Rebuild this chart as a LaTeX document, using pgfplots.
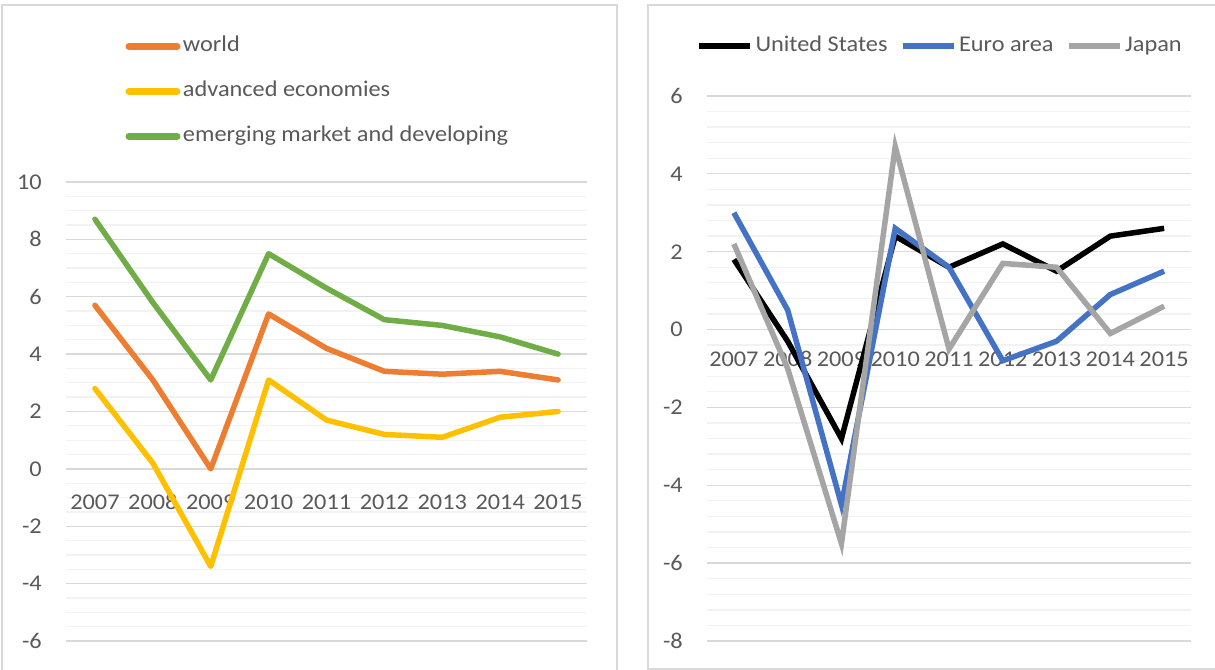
\documentclass[border=0pt]{standalone}
\usepackage{pgfplots}
\pgfplotsset{compat=1.18}
\usepackage{fontspec}
\setmainfont[FakeStretch=1.08]{Carlito}
\definecolor{txt}{HTML}{595959}
\definecolor{gmaj}{HTML}{D9D9D9}
\definecolor{gmin}{HTML}{F2F2F2}
\definecolor{border}{HTML}{D9D9D9}
\definecolor{cworld}{HTML}{ED7D31}
\definecolor{cadv}{HTML}{FFC000}
\definecolor{cemg}{HTML}{70AD47}
\definecolor{ceuro}{HTML}{4472C4}
\definecolor{cjap}{HTML}{A5A5A5}
\pgfplotsset{
  common/.style={
    scale only axis, clip=false,
    xmin=0.5, xmax=9.5,
    xtick={1,...,9},
    xticklabels={2007,2008,2009,2010,2011,2012,2013,2014,2015},
    ymajorgrids, yminorgrids,
    major grid style={draw=gmaj, line width=1.3bp},
    minor grid style={draw=gmin, line width=1.3bp},
    axis line style={draw=none},
    major tick length=0pt, minor tick length=0pt,
    tick label style={font=\fontsize{22.5bp}{27bp}\selectfont, text=txt},
    yticklabel style={xshift=-16.5bp},
    xticklabel style={text height=14bp, text depth=0pt},
  }
}
\begin{document}
\fontsize{22.5bp}{27bp}\selectfont
\begin{tikzpicture}[x=1bp,y=1bp]
\useasboundingbox (0,0) rectangle (1215,670);
\draw[border, line width=1.2bp] (2,-5) rectangle (617,665);
\draw[border, line width=1.2bp] (648,1) rectangle (1225,665);

\begin{axis}[common,
  at={(66bp,29bp)}, anchor=south west,
  width=521bp, height=459bp,
  ymin=-6, ymax=10,
  ytick={-6,-4,-2,0,2,4,6,8,10},
  yticklabels={-6,-4,-2,0,2,4,6,8,10},
  minor y tick num=3,
  xticklabel style={yshift=153bp},
  legend cell align=left,
  legend image code/.code={\draw[#1, line width=7bp, line cap=round] (0bp,0bp) -- (48bp,0bp);},
  legend style={at={(0.1142,1.317)}, anchor=north west, draw=none, fill=none,
    inner sep=0pt, outer sep=0pt, row sep=25bp,
    font=\fontsize{22.5bp}{27bp}\selectfont,
    nodes={inner sep=0pt, text=txt, text height=15bp, text depth=5bp},
    /tikz/every odd column/.append style={column sep=2.5bp}},
  every axis plot/.append style={line width=5.5bp, line cap=round, line join=round},
]
\addplot[cworld] coordinates {(1,5.7) (2,3.1) (3,0.0) (4,5.4) (5,4.2) (6,3.4) (7,3.3) (8,3.4) (9,3.1)};
\addlegendentry{world}
\addplot[cadv] coordinates {(1,2.8) (2,0.2) (3,-3.4) (4,3.1) (5,1.7) (6,1.2) (7,1.1) (8,1.8) (9,2.0)};
\addlegendentry{advanced economies}
\addplot[cemg] coordinates {(1,8.7) (2,5.8) (3,3.1) (4,7.5) (5,6.3) (6,5.2) (7,5.0) (8,4.6) (9,4.0)};
\addlegendentry{emerging market and developing}
\end{axis}

\begin{axis}[common,
  at={(707bp,29bp)}, anchor=south west,
  width=484bp, height=545bp,
  ymin=-8, ymax=6,
  ytick={-8,-6,-4,-2,0,2,4,6},
  yticklabels={-8,-6,-4,-2,0,2,4,6},
  minor y tick num=4,
  xticklabel style={yshift=296bp},
  legend columns=3,
  legend image code/.code={\draw[#1, line width=6bp, line cap=butt] (0bp,0bp) -- (51bp,0bp);},
  legend style={at={(-0.0227,1.1092)}, anchor=north west, draw=none, fill=none,
    inner sep=0pt, outer sep=0pt,
    font=\fontsize{22.5bp}{27bp}\selectfont,
    nodes={inner sep=0pt, text=txt, text height=15bp, text depth=5bp},
    /tikz/every odd column/.append style={column sep=2.5bp},
    /tikz/every even column/.append style={column sep=12bp}},
  every axis plot/.append style={line width=5.5bp, line join=miter},
]
\addplot[black] coordinates {(1,1.8) (2,-0.3) (3,-2.8) (4,2.4) (5,1.6) (6,2.2) (7,1.5) (8,2.4) (9,2.6)};
\addlegendentry{United States}
\addplot[ceuro] coordinates {(1,3.0) (2,0.5) (3,-4.5) (4,2.6) (5,1.6) (6,-0.8) (7,-0.3) (8,0.9) (9,1.5)};
\addlegendentry{Euro area}
\addplot[cjap] coordinates {(1,2.2) (2,-1.0) (3,-5.5) (4,4.7) (5,-0.5) (6,1.7) (7,1.6) (8,-0.1) (9,0.6)};
\addlegendentry{Japan}
\end{axis}
\end{tikzpicture}
\end{document}
